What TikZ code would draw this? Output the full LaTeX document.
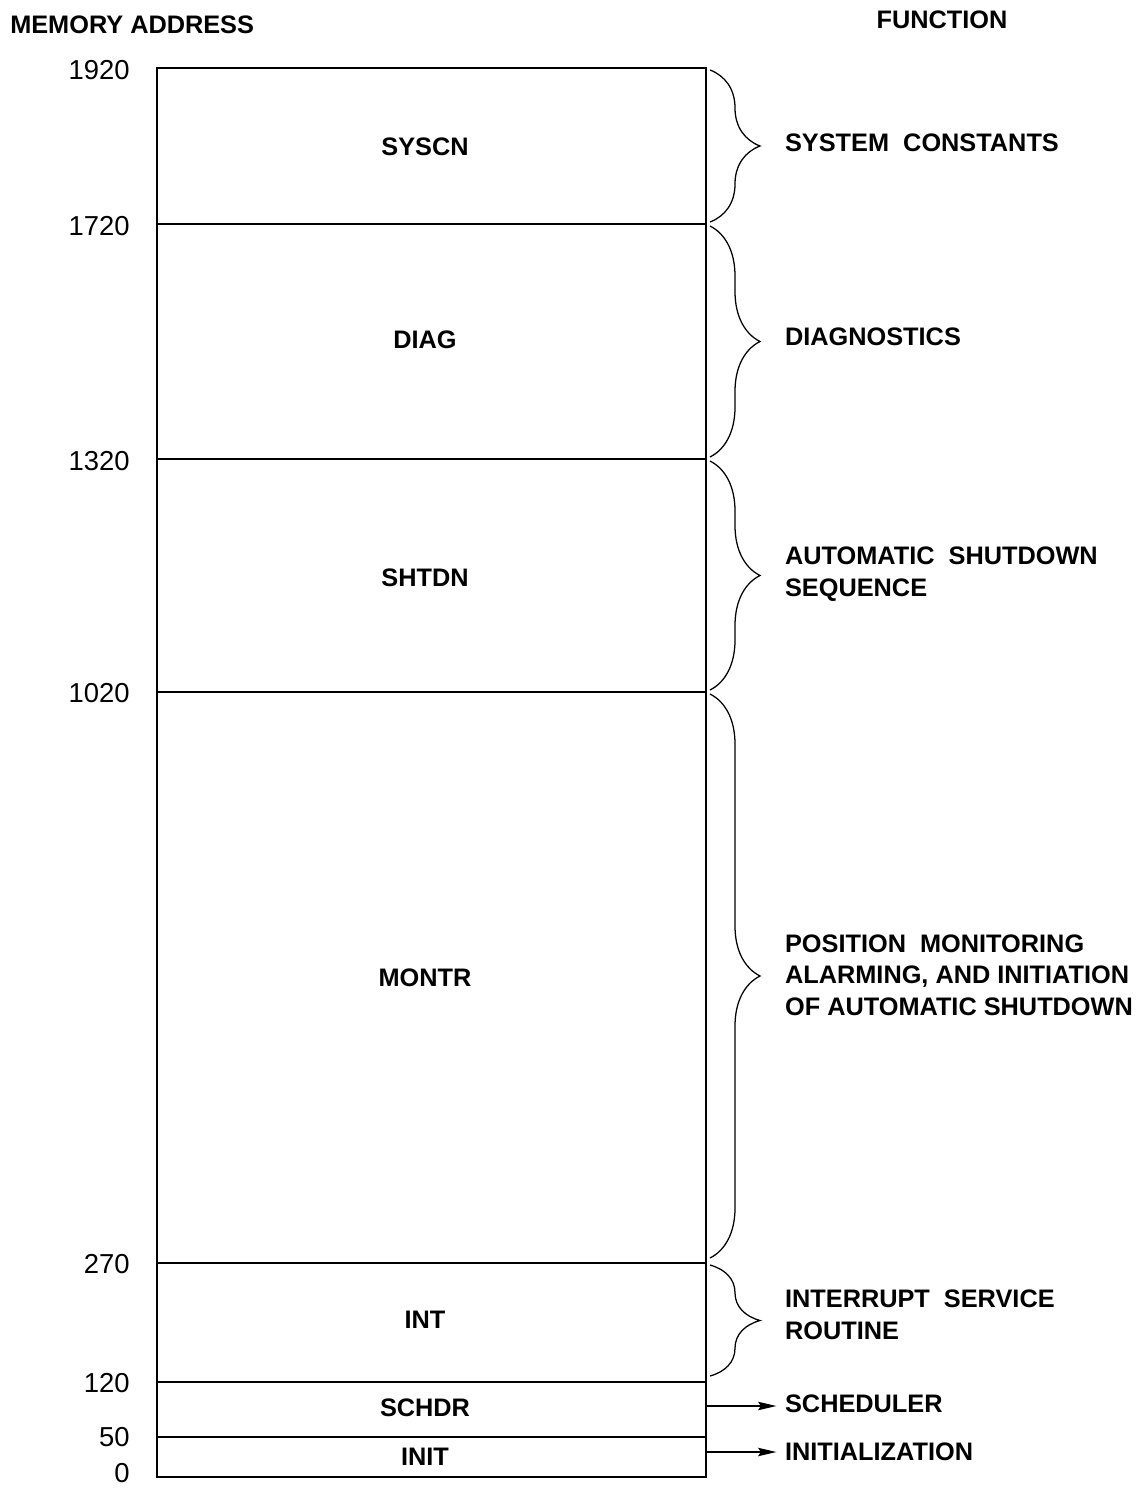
\documentclass[tikz,border=0pt]{standalone}
\usepackage{fontspec}
\setmainfont{Liberation Sans}
\usepackage{tikz}
\usetikzlibrary{arrows.meta,decorations.pathreplacing}

\begin{document}
\begin{tikzpicture}[
    x=0.025cm,y=-0.025cm,
    >={Stealth[length=13pt,width=6pt,inset=2pt]},
    font=\fontsize{18}{22.5}\selectfont\bfseries,
    wall/.style={line width=1.1pt},
    addr/.style={anchor=east,inner sep=0pt,font=\fontsize{19.5}{22}\selectfont},
    region/.style={inner sep=0pt},
    func/.style={anchor=west,align=left,inner sep=2pt},
    curly/.style={line width=0.9pt,decorate,decoration={brace,amplitude=1.25cm}},
    pointer/.style={->,line width=0.9pt,shorten >=4pt}
  ]
    \useasboundingbox (0,0) rectangle (1142,1489);

    % headings
    \node[anchor=west,inner sep=0pt] (hmem) at (10,25) {MEMORY ADDRESS};
    \node[inner sep=0pt] (hfun) at (942,20) {FUNCTION};

    % address lines of the memory map
    \foreach \adr/\yy/\ty in {1920/68/70,1720/224/226,1320/459/461,1020/692/693,270/1263/1264,120/1382/1383,50/1437/1437,0/1477/1473}{
      \coordinate (l\adr) at (157,\yy);
      \coordinate (r\adr) at (706,\yy);
      \node[addr] (a\adr) at (130,\ty) {\adr};
    }
    \draw[wall] (l1920) rectangle (r0);
    \foreach \adr in {1720,1320,1020,270,120,50}
      \draw[wall] (l\adr) -- (r\adr);

    % program blocks
    \node[region] (syscn) at (425,147) {SYSCN};
    \node[region] (diag) at (425,340) {DIAG};
    \node[region] (shtdn) at (425,578) {SHTDN};
    \node[region] (montr) at (425,978) {MONTR};
    \node[region] (int) at (425,1320) {INT};
    \node[region] (schdr) at (425,1408) {SCHDR};
    \node[region] (init) at (425,1457) {INIT};

    % functions
    \node[func] (fsys) at (782,143) {SYSTEM\ \ CONSTANTS};
    \node[func] (fdiag) at (782,337) {DIAGNOSTICS};
    \node[func] (fshut) at (782,574) {AUTOMATIC\ \ SHUTDOWN\\SEQUENCE};
    \node[func] (fmon) at (782,975) {POSITION\ \ MONITORING\\ALARMING, AND INITIATION\\OF AUTOMATIC SHUTDOWN};
    \node[func] (fint) at (782,1315) {INTERRUPT\ \ SERVICE\\ROUTINE};
    \node[func] (fsch) at (782,1404) {SCHEDULER};
    \node[func] (fini) at (782,1452) {INITIALIZATION};

    \draw[curly] ([shift={(4,2)}]r1920) -- ([shift={(4,-2)}]r1720);
    \draw[curly] ([shift={(4,2)}]r1720) -- ([shift={(4,-2)}]r1320);
    \draw[curly] ([shift={(4,2)}]r1320) -- ([shift={(4,-2)}]r1020);
    \draw[curly] ([shift={(4,2)}]r1020) -- ([shift={(4,-5)}]r270);
    \draw[curly] ([shift={(4,2)}]r270) -- ([shift={(4,-6)}]r120);

    \coordinate (osch) at (706,1406);
    \coordinate (oini) at (706,1452);
    \draw[pointer] (osch) -- (osch -| fsch.west);
    \draw[pointer] (oini) -- (oini -| fini.west);
  \end{tikzpicture}
\end{document}
